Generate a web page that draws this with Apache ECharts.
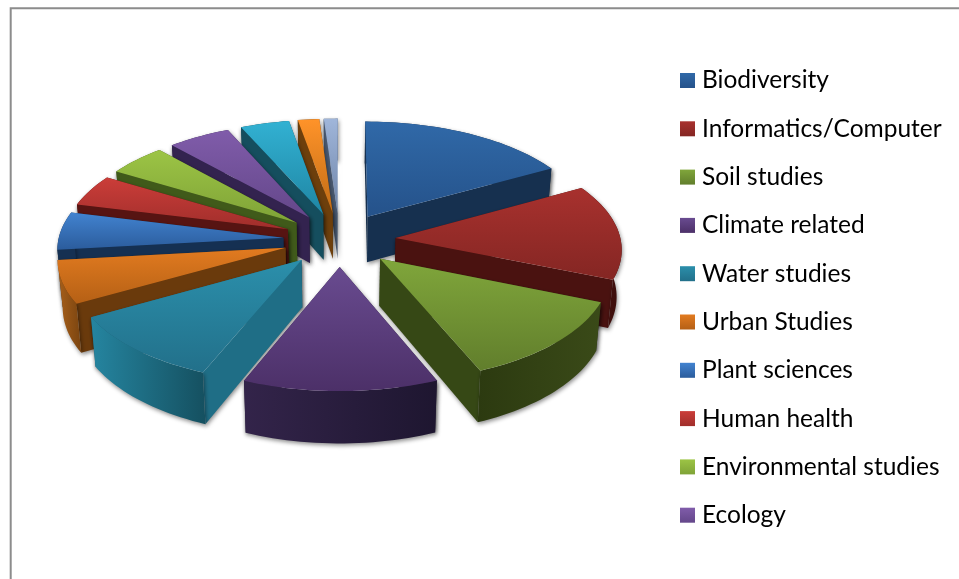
<!DOCTYPE html>
<html><head><meta charset="utf-8">
<style>html,body{margin:0;padding:0;background:#fff}#c{width:959px;height:579px}</style>
<script src="https://cdn.jsdelivr.net/npm/echarts@6/dist/echarts.min.js"></script>
</head><body><div id="c"></div>
<script>
// categories (the last three slices are cut off from the legend in the reference)
var categories = ['Biodiversity','Informatics/Computer','Soil studies','Climate related','Water studies','Urban Studies','Plant sciences','Human health','Environmental studies','Ecology','Slice 11','Slice 12','Slice 13'];
var legendCount = 10;
// share of the pie
var values = [16.9,14.2,12.5,12.5,10.6,6.4,5.6,4.7,4.7,5.0,3.9,1.7,1.1];
// styles
var topLight  = ['#3069A8','#A8312E','#80A63B','#694B90','#2B8FAB','#E27B20','#4283D0','#CB3D39','#9CC445','#805CAA','#32B1D2','#FF9329','#A0B6DA'];
var topDark   = ['#25528A','#842623','#617E2C','#4C3068','#22708A','#B56015','#2B5C9C','#A02E2B','#7FA337','#64478A','#1F86A4','#C06C16','#6E84A8'];
var sideWall  = ['#16304F','#4A1210','#364815','#2D1F42','#1F6E86','#6A3A0C','#153052','#571412','#405A1A','#33234F','#154E5E','#6D3F0C','#4A5A72'];
var outerLeft = ['#16304F','#4A1210','#2C3A10','#33244A','#2585A0','#A8601A','#153052','#571412','#405A1A','#33234F','#154E5E','#6D3F0C','#4A5A72'];
var outerRight= ['#16304F','#3C0E0C','#3A4A18','#1E1630','#155060','#7A4410','#153052','#571412','#405A1A','#33234F','#154E5E','#6D3F0C','#4A5A72'];
// projection of the tilted pie
var view = {cx:339.5, cy:239.5, rx:225, ry:107.6, persp:0.09, explode:0.25, depth:46.5, shrink:0.982};

var total = values.reduce(function(a,b){return a+b;},0);
var starts = [];
values.reduce(function(acc,v,i){starts[i]=acc;return acc+v/total*2*Math.PI;},0);

function proj(x,y){
  var s = 1/(1-view.persp*y);
  return [view.cx+view.rx*x*s, view.cy+view.ry*y*s, s];
}
function lower(p){
  return [view.cx+(p[0]-view.cx)*view.shrink, p[1]+view.depth*p[2]];
}
function vGrad(a,b){return {type:'linear',x:0,y:0,x2:0,y2:1,colorStops:[{offset:0,color:a},{offset:1,color:b}]};}
function hGrad(a,b){return {type:'linear',x:0,y:0,x2:1,y2:0,colorStops:[{offset:0,color:a},{offset:1,color:b}]};}
var wallShadow = {shadowBlur:4,shadowColor:'rgba(0,0,0,0.45)',shadowOffsetX:1,shadowOffsetY:2};

function sliceItem(i){
  return function(params,api){
    var a0 = starts[i], a1 = a0+api.value(0)/total*2*Math.PI, mid=(a0+a1)/2;
    var ox = view.explode*Math.sin(mid), oy = -view.explode*Math.cos(mid);
    var apex = proj(ox,oy), arc=[], n=Math.max(4,Math.ceil((a1-a0)/0.03));
    for(var k=0;k<=n;k++){
      var t=a0+(a1-a0)*k/n;
      arc.push(proj(ox+Math.sin(t),oy-Math.cos(t)));
    }
    var first=arc[0], last=arc[arc.length-1];
    var flat=function(p){return [p[0],p[1]];};
    var wall=function(a,b,fill){
      return {y:(a[1]+b[1])/2,el:{type:'polygon',shape:{points:[flat(a),flat(b),lower(b),lower(a)]},style:Object.assign({fill:fill},wallShadow)}};
    };
    var walls=[wall(apex,first,sideWall[i]),wall(apex,last,sideWall[i])];
    var outerPts=arc.map(flat).concat(arc.slice().reverse().map(lower));
    walls.push({y:Math.max(first[1],last[1])-((Math.cos(mid)>0.3)?300:0)+((Math.cos(mid)<=0.3)?60:0),
      el:{type:'polygon',shape:{points:outerPts},style:Object.assign({fill:hGrad(outerLeft[i],outerRight[i])},wallShadow)}});
    walls.sort(function(p,q){return p.y-q.y;});
    var kids=walls.map(function(w){return w.el;});
    kids.push({type:'polygon',shape:{points:[flat(apex)].concat(arc.map(flat))},style:{fill:vGrad(topLight[i],topDark[i])}});
    return {type:'group',children:kids};
  };
}

var order = values.map(function(v,i){return i;});
function depthOf(i){var m=starts[i]+values[i]/total*Math.PI;return -Math.cos(m);}
order.sort(function(p,q){return depthOf(p)-depthOf(q);});

var chart = echarts.init(document.getElementById('c'),null,{renderer:'canvas'});
chart.setOption({
  animation:false,
  backgroundColor:'#fff',
  graphic:[{type:'polyline',silent:true,shape:{points:[[10.7,579],[10.7,8.3],[959,8.3]]},style:{stroke:'#8c8c8c',lineWidth:2,fill:null}}],
  legend:{
    orient:'vertical',left:675,top:63,selectedMode:false,itemWidth:15,itemHeight:15,itemGap:23.3,
    textStyle:{fontFamily:'Lato',fontSize:24.5,color:'#000',padding:[0,0,0,2],lineHeight:24},
    data:categories.slice(0,legendCount).map(function(c,i){
      return {name:c,icon:'rect',itemStyle:{color:vGrad(topLight[i],topDark[i]),borderWidth:0}};
    })
  },
  series:order.map(function(i){
    return {type:'custom',name:categories[i],coordinateSystem:'none',silent:true,
      itemStyle:{color:topLight[i]},data:[[values[i]]],renderItem:sliceItem(i)};
  })
});
</script></body></html>
